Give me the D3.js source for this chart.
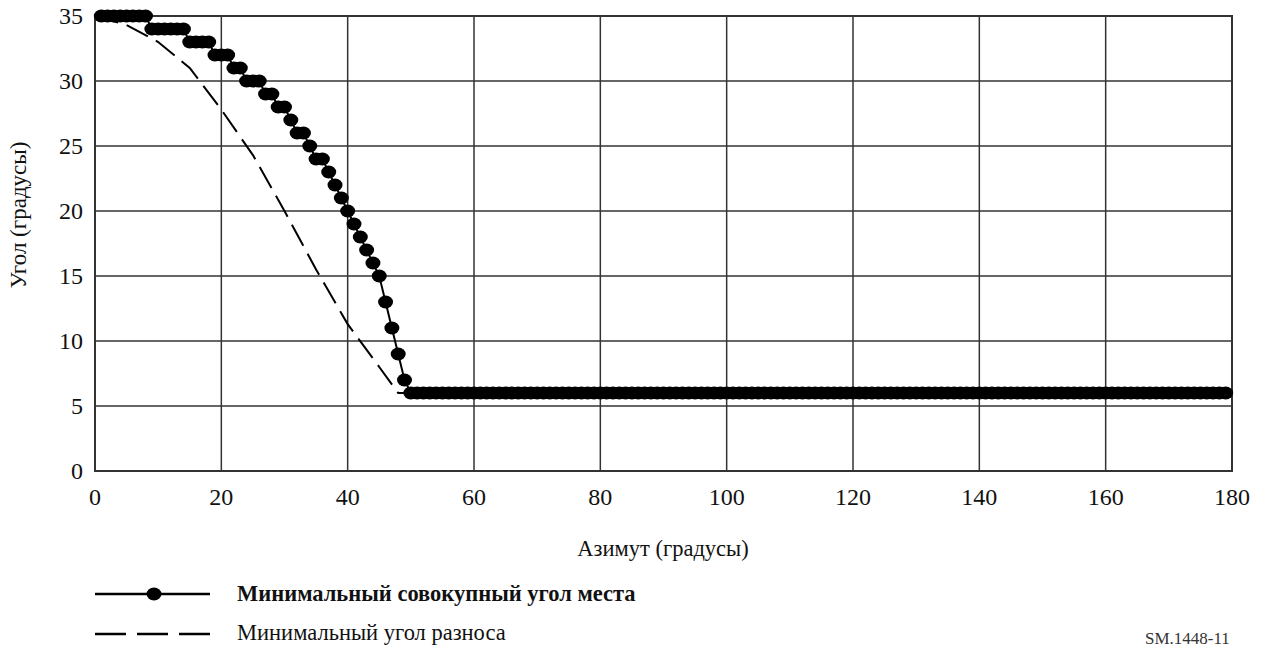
<!DOCTYPE html>
<html>
<head>
<meta charset="utf-8">
<script src="https://cdn.jsdelivr.net/npm/d3@7"></script>
<style>
  body { margin: 0; background: #fff; }
</style>
</head>
<body>
<div id="chart"></div>
<script>
// Минимальный совокупный угол места (по азимуту 1..179)
const elevAzimuth = d3.range(1, 180);
const elevSteps = [
  [8, 35], [14, 34], [18, 33], [21, 32], [23, 31], [26, 30], [28, 29], [30, 28],
  [31, 27], [33, 26], [34, 25], [36, 24], [37, 23], [38, 22], [39, 21], [40, 20],
  [41, 19], [42, 18], [43, 17], [44, 16], [45, 15], [46, 13], [47, 11], [48, 9],
  [49, 7], [179, 6]
];
// Минимальный угол разноса
const sepAzimuth = [0, 5, 10, 15, 20, 25, 30, 35, 40, 45, 48, 180];
const sepAngle = [35, 34.3, 33, 31, 27.8, 24.3, 20, 15.5, 11.3, 8, 6, 6];

const xTicks = [0, 20, 40, 60, 80, 100, 120, 140, 160, 180];
const yTicks = [0, 5, 10, 15, 20, 25, 30, 35];

const legendLabels = ["Минимальный совокупный угол места", "Минимальный угол разноса"];

const width = 1265, height = 650;
const margin = { top: 16, right: 33, bottom: 179, left: 95 };
const serif = "'Liberation Serif', 'Times New Roman', 'DejaVu Serif', serif";

const svg = d3.select("#chart").append("svg")
  .attr("width", width).attr("height", height)
  .attr("font-family", serif);

const x = d3.scaleLinear().domain([0, 180]).range([margin.left, width - margin.right]);
const y = d3.scaleLinear().domain([0, 35]).range([height - margin.bottom, margin.top]);

// elevation series from step table
let elevData = elevAzimuth.map(a => {
  let v = elevSteps.find(s => a <= s[0]);
  return { a: a, v: v[1] };
});
let sepData = sepAzimuth.map((a, i) => ({ a: a, v: sepAngle[i] }));

// grid
const grid = svg.append("g");
grid.selectAll(".gx").data(xTicks).enter().append("line")
  .attr("x1", d => x(d)).attr("x2", d => x(d))
  .attr("y1", y(0)).attr("y2", y(35))
  .attr("stroke", "#333").attr("stroke-width", 1.5);
grid.selectAll(".gy").data(yTicks).enter().append("line")
  .attr("y1", d => y(d)).attr("y2", d => y(d))
  .attr("x1", x(0)).attr("x2", x(180))
  .attr("stroke", "#333").attr("stroke-width", 1.5);
svg.append("rect")
  .attr("x", x(0)).attr("y", y(35))
  .attr("width", x(180) - x(0)).attr("height", y(0) - y(35))
  .attr("fill", "none").attr("stroke", "#333").attr("stroke-width", 2);

// tick labels
svg.selectAll(".xl").data(xTicks).enter().append("text")
  .attr("x", d => x(d)).attr("y", y(0) + 34)
  .attr("text-anchor", "middle").attr("font-size", 24).attr("fill", "#111")
  .text(d => d);
svg.selectAll(".yl").data(yTicks).enter().append("text")
  .attr("x", x(0) - 12).attr("y", d => y(d) + 8)
  .attr("text-anchor", "end").attr("font-size", 24).attr("fill", "#111")
  .text(d => d);

// axis titles
svg.append("text")
  .attr("x", 663).attr("y", 556)
  .attr("text-anchor", "middle").attr("font-size", 22.5).attr("fill", "#111")
  .text("Азимут (градусы)");
svg.append("text")
  .attr("transform", "translate(26,215) rotate(-90)")
  .attr("text-anchor", "middle").attr("font-size", 23).attr("fill", "#111")
  .text("Угол (градусы)");

// dashed line
const line = d3.line().x(d => x(d.a)).y(d => y(d.v));
svg.append("path")
  .attr("d", line(sepData))
  .attr("fill", "none").attr("stroke", "#000").attr("stroke-width", 2)
  .attr("stroke-dasharray", "24,9");

// elevation line + markers
svg.append("path")
  .attr("d", line(elevData))
  .attr("fill", "none").attr("stroke", "#000").attr("stroke-width", 2);
svg.selectAll(".m").data(elevData).enter().append("ellipse")
  .attr("cx", d => x(d.a)).attr("cy", d => y(d.v))
  .attr("rx", 7.5).attr("ry", 6.5).attr("fill", "#000");

// legend
const lg = svg.append("g");
lg.append("line").attr("x1", 95).attr("x2", 210).attr("y1", 594).attr("y2", 594)
  .attr("stroke", "#000").attr("stroke-width", 2.5);
lg.append("ellipse").attr("cx", 154).attr("cy", 594).attr("rx", 7.5).attr("ry", 6.5).attr("fill", "#000");
lg.append("text").attr("x", 237).attr("y", 601).attr("font-size", 22.5).attr("font-weight", "bold")
  .attr("fill", "#111").text(legendLabels[0]);
lg.append("line").attr("x1", 95).attr("x2", 210).attr("y1", 634).attr("y2", 634)
  .attr("stroke", "#000").attr("stroke-width", 2.5).attr("stroke-dasharray", "31,11");
lg.append("text").attr("x", 237).attr("y", 640).attr("font-size", 22.5)
  .attr("fill", "#111").text(legendLabels[1]);

svg.append("text").attr("x", 1145).attr("y", 644).attr("font-size", 17)
  .attr("fill", "#333").text("SM.1448-11");
</script>
</body>
</html>
